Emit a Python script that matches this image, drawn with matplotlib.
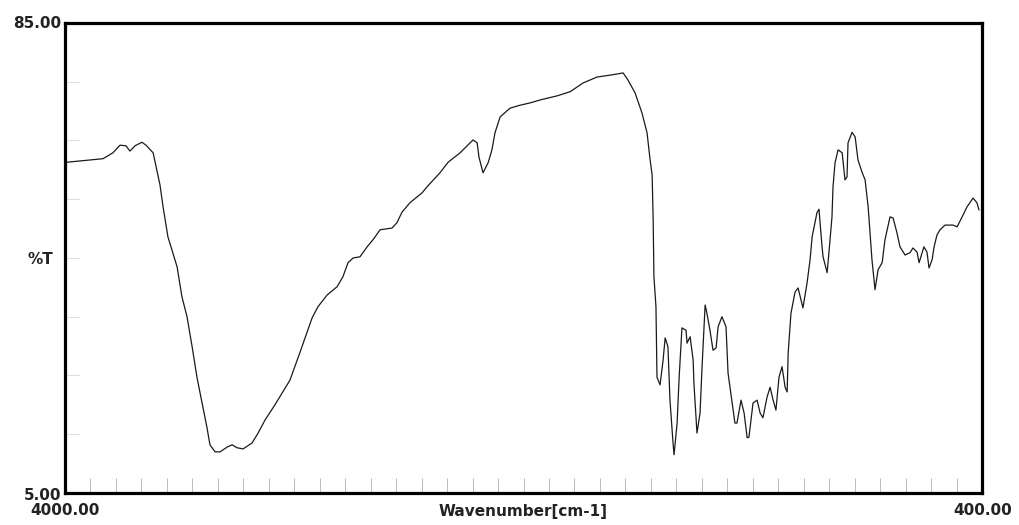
import numpy as np
import matplotlib
matplotlib.use("Agg")
import matplotlib.pyplot as plt

# IR spectrum (wavenumber in cm-1, transmittance in %T)
wavenumber = [
    3992, 3851, 3812, 3784, 3761, 3745, 3725, 3698, 3682, 3654,
    3627, 3615, 3596, 3560, 3541, 3521, 3501, 3482, 3462, 3443,
    3431, 3411, 3391, 3364, 3344, 3325, 3301, 3266, 3242, 3215,
    3176, 3117, 3077, 3030, 3007, 2971, 2932, 2909, 2889, 2869,
    2842, 2814, 2791, 2763, 2716, 2697, 2677, 2646, 2598, 2579,
    2528, 2496, 2449, 2398, 2382, 2375, 2359, 2339, 2324, 2312,
    2292, 2253, 2214, 2174, 2135, 2068, 2017, 1966, 1911, 1849,
    1809, 1790, 1762, 1735, 1715, 1703, 1695, 1691, 1688, 1680,
    1676, 1664, 1652, 1644, 1633, 1625, 1613, 1609, 1597, 1589,
    1578, 1562, 1558, 1546, 1534, 1531, 1519, 1507, 1499, 1487,
    1480, 1468, 1456, 1444, 1436, 1421, 1405, 1397, 1381, 1370,
    1362, 1346, 1334, 1322, 1315, 1299, 1283, 1271, 1260, 1244,
    1232, 1220, 1209, 1197, 1185, 1173, 1165, 1161, 1150, 1134,
    1122, 1103, 1087, 1075, 1067, 1048, 1040, 1028, 1024, 1008,
    1000, 989, 985, 977, 965, 949, 938, 930, 926, 910,
    898, 887, 871, 859, 847, 832, 820, 808, 792, 781,
    761, 749, 734, 722, 702, 683, 671, 655, 647, 635,
    628, 616, 608, 596, 588, 577, 565, 545, 514, 498,
    478, 459, 435, 420, 412,
]
transmittance = [
    61.3, 61.9, 62.9, 64.2, 64.1, 63.2, 64.1, 64.7, 64.2, 62.9,
    57.4, 53.7, 48.6, 43.5, 38.4, 35.0, 29.9, 24.7, 20.3, 16.2,
    13.2, 12.0, 12.0, 12.8, 13.2, 12.7, 12.5, 13.5, 15.2, 17.4,
    20.0, 24.2, 29.0, 34.8, 36.7, 38.7, 40.1, 41.8, 44.2, 45.0,
    45.2, 46.9, 48.1, 49.8, 50.1, 51.0, 52.8, 54.4, 56.1, 57.1,
    59.5, 61.3, 62.9, 65.1, 64.6, 62.2, 59.5, 61.2, 63.4, 66.3,
    69.0, 70.5, 71.0, 71.4, 71.9, 72.6, 73.3, 74.8, 75.8, 76.2,
    76.5, 75.3, 73.1, 69.7, 66.3, 61.7, 59.1, 51.5, 41.8, 36.7,
    24.7, 23.4, 27.6, 31.4, 29.9, 20.8, 13.5, 11.5, 16.9, 24.7,
    33.1, 32.7, 30.5, 31.6, 27.6, 23.7, 15.2, 18.6, 26.5, 37.0,
    35.6, 32.7, 29.3, 29.7, 33.3, 35.0, 33.3, 25.4, 20.3, 16.9,
    16.9, 20.8, 18.6, 14.4, 14.5, 20.3, 20.8, 18.6, 17.8, 21.3,
    23.0, 20.8, 19.1, 24.7, 26.5, 23.0, 22.2, 28.8, 35.6, 39.2,
    39.9, 36.5, 40.7, 44.7, 48.6, 52.7, 53.3, 46.9, 45.2, 42.5,
    46.4, 52.0, 57.1, 61.2, 63.4, 62.9, 58.3, 58.8, 64.6, 66.4,
    65.6, 61.7, 59.6, 58.3, 53.7, 44.7, 39.6, 43.0, 44.2, 48.1,
    52.0, 51.8, 49.3, 46.9, 45.5, 45.9, 46.7, 46.0, 44.2, 45.9,
    46.9, 46.0, 43.3, 44.7, 46.9, 48.9, 49.8, 50.6, 50.6, 50.3,
    52.0, 53.7, 55.2, 54.4, 53.2,
]

x_min, x_max = 4000, 400
y_min, y_max = 5, 85

fig = plt.figure(figsize=(10.19, 5.25), dpi=100)
ax = fig.add_axes([0.0638, 0.061, 0.8999, 0.8952])

ax.plot(wavenumber, transmittance, color="#1a1a1a", linewidth=0.9)

ax.set_xlim(x_min, x_max)
ax.set_ylim(y_min, y_max)

ax.set_xticks(np.arange(3900, 400, -100))
ax.set_yticks(np.arange(15, 85, 10))
ax.tick_params(axis="x", direction="in", length=11, width=0.6, color="#b0b0b0",
               labelbottom=False)
ax.tick_params(axis="y", direction="in", length=11, width=0.6, color="#d8d8d8",
               labelleft=False)

for side in ["left", "right", "top", "bottom"]:
    ax.spines[side].set_linewidth(2.3)
    ax.spines[side].set_color("black")

lbl = dict(fontsize=11, fontweight="bold", color="#222222")
fig.text(0.060, 0.956, "85.00", ha="right", va="center", **lbl)
fig.text(0.060, 0.057, "5.00", ha="right", va="center", **lbl)
fig.text(0.052, 0.505, "%T", ha="right", va="center", **lbl)
fig.text(0.064, 0.027, "4000.00", ha="center", va="center", **lbl)
fig.text(0.964, 0.027, "400.00", ha="center", va="center", **lbl)
fig.text(0.513, 0.025, "Wavenumber[cm-1]", ha="center", va="center", **lbl)

fig.savefig("out.png", dpi=100, facecolor="white")
